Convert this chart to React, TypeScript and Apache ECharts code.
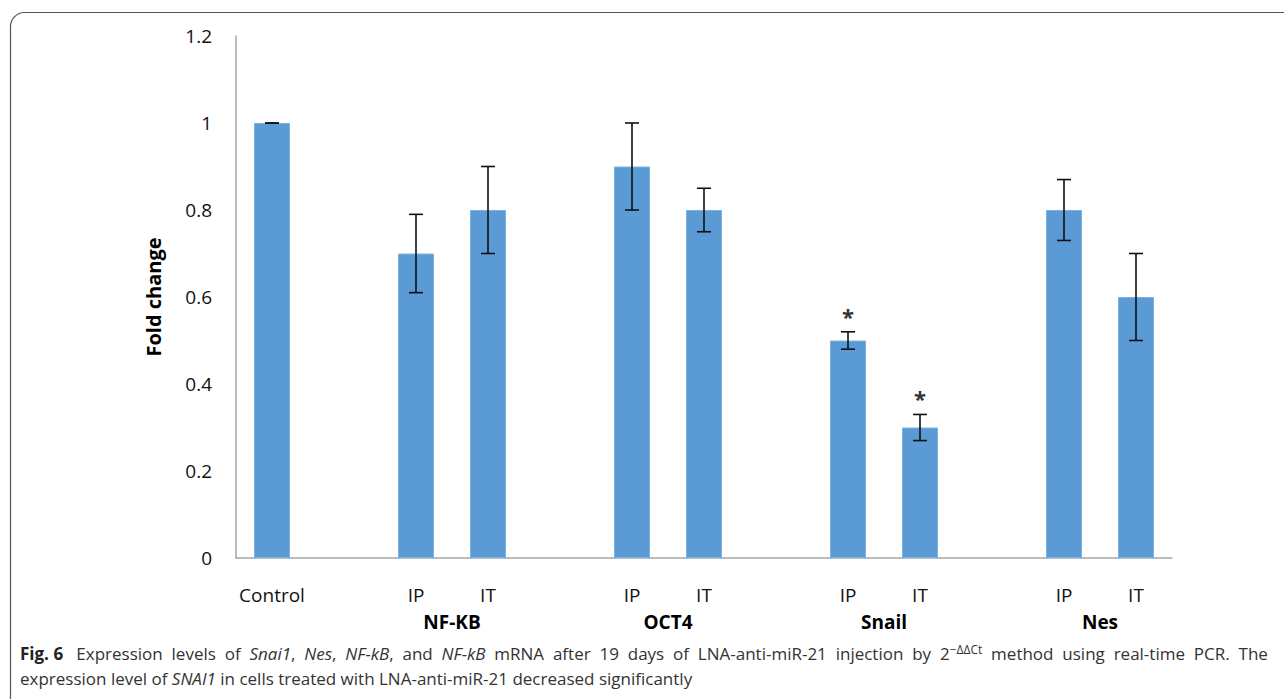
import React, { useEffect, useRef } from "react";
import * as echarts from "echarts";

const categories = ["Control", "", "IP", "IT", "", "IP", "IT", "", "IP", "IT", "", "IP", "IT"];
const foldChange = [1.0, null, 0.7, 0.8, null, 0.9, 0.8, null, 0.5, 0.3, null, 0.8, 0.6];
const errorLow = [1.0, null, 0.61, 0.7, null, 0.8, 0.75, null, 0.48, 0.27, null, 0.73, 0.5];
const errorHigh = [1.0, null, 0.79, 0.9, null, 1.0, 0.85, null, 0.52, 0.33, null, 0.87, 0.7];
const significance = ["", "", "", "", "", "", "", "", "*", "*", "", "", ""];
const geneGroups = ["NF-KB", "OCT4", "Snail", "Nes"];
const geneGroupStart = [2, 5, 8, 11];
const yMin = 0;
const yMax = 1.2;
const yInterval = 0.2;

// line 1 of the caption is justified in the original: wider word gaps
const captionLine1 =
  "{b|Fig. 6}   Expression  levels  of  {i|Snai1},  {i|Nes},  {i|NF-kB},  and  {i|NF-kB}  mRNA  after  19  days  of  LNA-anti-miR-21  injection  by  2{sup|−ΔΔCt}  method  using  real-time  PCR.  The";
const captionLine2 =
  "expression level of {i|SNAI1} in cells treated with LNA-anti-miR-21 decreased significantly";

const LABEL_FONT = "'Open Sans', sans-serif";
const CAPTION_FONT = "'Open Sans', sans-serif";
const CAPTION_SIZE = 17;

export default function App() {
  const ref = useRef<HTMLDivElement>(null);

  useEffect(() => {
    if (!ref.current) return;
    const chart = echarts.init(ref.current, undefined, { renderer: "svg" });

    const errorData = categories
      .map((_, i) => [i, errorLow[i], errorHigh[i], significance[i]])
      .filter((d) => d[1] !== null);
    const groupData = geneGroups.map((g, k) => [geneGroupStart[k], g]);

    const captionRich = {
      b: { fontWeight: "bold", fontSize: CAPTION_SIZE, fontFamily: CAPTION_FONT, fill: "#222" },
      i: { fontStyle: "italic", fontSize: CAPTION_SIZE, fontFamily: CAPTION_FONT, fill: "#333" },
      sup: { fontSize: 12, fontFamily: CAPTION_FONT, fill: "#333", padding: [0, 0, 9, 0] },
    };

    chart.setOption({
      animation: false,
      backgroundColor: "#ffffff",
      grid: { left: 236, right: 112, top: 36, bottom: 141, containLabel: false },
      xAxis: {
        type: "category",
        data: categories,
        axisLine: { show: true, lineStyle: { color: "#a6a6a6", width: 1.5 } },
        axisTick: { show: false },
        axisLabel: {
          interval: 0,
          margin: 27,
          fontSize: 19,
          fontFamily: LABEL_FONT,
          color: "#111",
        },
        splitLine: { show: false },
      },
      yAxis: {
        type: "value",
        min: yMin,
        max: yMax,
        interval: yInterval,
        name: "Fold change",
        nameLocation: "middle",
        nameRotate: 90,
        nameGap: 73,
        nameTextStyle: { fontSize: 20, fontWeight: "bold", fontFamily: LABEL_FONT, color: "#000" },
        axisLine: { show: true, lineStyle: { color: "#a6a6a6", width: 1.5 } },
        axisTick: { show: false },
        splitLine: { show: false },
        axisLabel: { fontSize: 19, fontFamily: LABEL_FONT, color: "#111", margin: 24 },
      },
      series: [
        {
          type: "bar",
          data: foldChange,
          barWidth: 36,
          itemStyle: { color: "#5b9bd5", borderColor: "#7fb2e2", borderWidth: 1 },
        },
        {
          type: "custom",
          data: errorData,
          encode: { x: 0, y: [1, 2] },
          z: 10,
          renderItem: (params: any, api: any) => {
            const x = api.value(0);
            const lo = api.coord([x, api.value(1)]);
            const hi = api.coord([x, api.value(2)]);
            const sig = errorData[params.dataIndex][3] as string;
            const cap = 7;
            const style = { stroke: "#111", lineWidth: 1.6 };
            const children: any[] = [
              { type: "line", shape: { x1: lo[0], y1: lo[1], x2: hi[0], y2: hi[1] }, style },
              { type: "line", shape: { x1: hi[0] - cap, y1: hi[1], x2: hi[0] + cap, y2: hi[1] }, style },
              { type: "line", shape: { x1: lo[0] - cap, y1: lo[1], x2: lo[0] + cap, y2: lo[1] }, style },
            ];
            if (sig) {
              children.push({
                type: "text",
                style: {
                  text: sig,
                  x: hi[0],
                  y: hi[1] - 16,
                  align: "center",
                  verticalAlign: "middle",
                  fontSize: 22,
                  fontWeight: "bold",
                  fontFamily: LABEL_FONT,
                  fill: "#333",
                },
              });
            }
            return { type: "group", children };
          },
        },
        {
          type: "custom",
          data: groupData,
          encode: { x: 0 },
          silent: true,
          renderItem: (params: any, api: any) => {
            const idx = api.value(0);
            const a = api.coord([idx, 0]);
            const b = api.coord([idx + 1, 0]);
            const name = groupData[params.dataIndex][1] as string;
            return {
              type: "text",
              style: {
                text: name,
                x: (a[0] + b[0]) / 2,
                y: a[1] + 64,
                align: "center",
                verticalAlign: "middle",
                fontSize: 19,
                fontWeight: "bold",
                fontFamily: LABEL_FONT,
                fill: "#000",
              },
            };
          },
        },
      ],
      graphic: [
        {
          type: "rect",
          shape: { x: 10.5, y: 12.5, width: 1320, height: 720, r: 14 },
          style: { fill: "none", stroke: "#555", lineWidth: 1.2 },
          silent: true,
        },
        {
          type: "text",
          left: 20,
          top: 643,
          style: {
            text: captionLine1,
            fontSize: CAPTION_SIZE,
            fontFamily: CAPTION_FONT,
            fill: "#333",
            rich: captionRich,
          },
        },
        {
          type: "text",
          left: 20,
          top: 670,
          style: {
            text: captionLine2,
            fontSize: CAPTION_SIZE,
            fontFamily: CAPTION_FONT,
            fill: "#333",
            rich: captionRich,
          },
        },
      ],
    });

    return () => chart.dispose();
  }, []);

  return (
    <div
      ref={ref}
      style={{ position: "absolute", left: 0, top: 0, width: 1284, height: 699 }}
    />
  );
}
